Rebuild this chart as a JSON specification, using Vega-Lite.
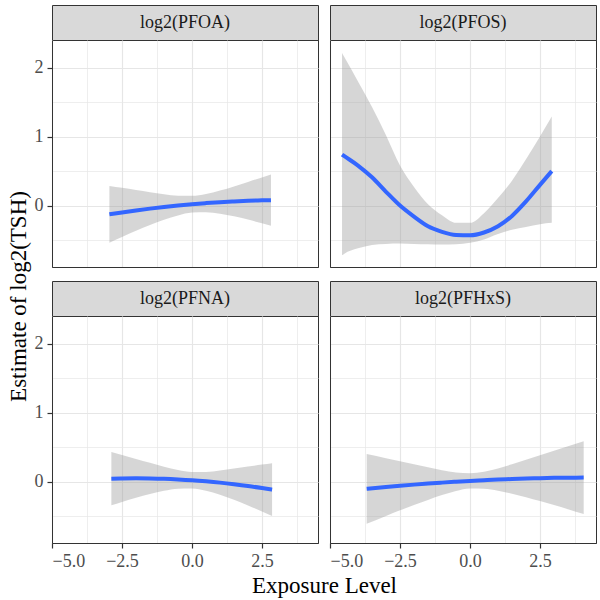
{
  "$schema": "https://vega.github.io/schema/vega-lite/v6.json",
  "padding": {"left": 6, "top": 4, "right": 0, "bottom": 0},
  "background": "white",
  "config": {
    "font": "Liberation Serif",
    "view": {"stroke": "#333333", "strokeWidth": 1},
    "axis": {
      "domain": true,
      "domainColor": "#333333",
      "domainWidth": 1,
      "labelFont": "Liberation Serif",
      "labelFontSize": 18,
      "labelColor": "#4d4d4d",
      "labelPadding": 4,
      "tickColor": "#333333",
      "tickSize": 5,
      "tickWidth": 1.2,
      "gridColor": "#e6e6e6",
      "titleFont": "Liberation Serif",
      "titleFontSize": 23,
      "titleFontWeight": "normal",
      "titleColor": "#000000",
      "titlePadding": 4
    }
  },
  "datasets": {
    "smooth": [
      {"panel": "log2(PFOA)", "x": -2.95, "fit": -0.127, "lower": -0.538, "upper": 0.284},
      {"panel": "log2(PFOA)", "x": -2.5, "fit": -0.099, "lower": -0.455, "upper": 0.257},
      {"panel": "log2(PFOA)", "x": -2.0, "fit": -0.07, "lower": -0.366, "upper": 0.226},
      {"panel": "log2(PFOA)", "x": -1.5, "fit": -0.044, "lower": -0.283, "upper": 0.195},
      {"panel": "log2(PFOA)", "x": -1.0, "fit": -0.02, "lower": -0.206, "upper": 0.166},
      {"panel": "log2(PFOA)", "x": -0.5, "fit": 0.001, "lower": -0.142, "upper": 0.144},
      {"panel": "log2(PFOA)", "x": 0.0, "fit": 0.02, "lower": -0.101, "upper": 0.141},
      {"panel": "log2(PFOA)", "x": 0.5, "fit": 0.036, "lower": -0.095, "upper": 0.167},
      {"panel": "log2(PFOA)", "x": 1.0, "fit": 0.05, "lower": -0.117, "upper": 0.217},
      {"panel": "log2(PFOA)", "x": 1.5, "fit": 0.061, "lower": -0.156, "upper": 0.278},
      {"panel": "log2(PFOA)", "x": 2.0, "fit": 0.07, "lower": -0.203, "upper": 0.343},
      {"panel": "log2(PFOA)", "x": 2.5, "fit": 0.076, "lower": -0.256, "upper": 0.408},
      {"panel": "log2(PFOA)", "x": 2.82, "fit": 0.079, "lower": -0.291, "upper": 0.449},

      {"panel": "log2(PFOS)", "x": -4.57, "fit": 0.74, "lower": -0.72, "upper": 2.21},
      {"panel": "log2(PFOS)", "x": -4.5, "fit": 0.72, "lower": -0.70, "upper": 2.16},
      {"panel": "log2(PFOS)", "x": -4.0, "fit": 0.58, "lower": -0.62, "upper": 1.80},
      {"panel": "log2(PFOS)", "x": -3.5, "fit": 0.41, "lower": -0.57, "upper": 1.43},
      {"panel": "log2(PFOS)", "x": -3.0, "fit": 0.20, "lower": -0.555, "upper": 1.02},
      {"panel": "log2(PFOS)", "x": -2.5, "fit": 0.00, "lower": -0.55, "upper": 0.58},
      {"panel": "log2(PFOS)", "x": -2.0, "fit": -0.16, "lower": -0.555, "upper": 0.27},
      {"panel": "log2(PFOS)", "x": -1.5, "fit": -0.30, "lower": -0.56, "upper": 0.02},
      {"panel": "log2(PFOS)", "x": -1.0, "fit": -0.38, "lower": -0.565, "upper": -0.14},
      {"panel": "log2(PFOS)", "x": -0.5, "fit": -0.425, "lower": -0.56, "upper": -0.25},
      {"panel": "log2(PFOS)", "x": 0.0, "fit": -0.43, "lower": -0.54, "upper": -0.25},
      {"panel": "log2(PFOS)", "x": 0.5, "fit": -0.39, "lower": -0.49, "upper": -0.11},
      {"panel": "log2(PFOS)", "x": 1.0, "fit": -0.30, "lower": -0.41, "upper": 0.11},
      {"panel": "log2(PFOS)", "x": 1.5, "fit": -0.15, "lower": -0.35, "upper": 0.36},
      {"panel": "log2(PFOS)", "x": 2.0, "fit": 0.06, "lower": -0.31, "upper": 0.67},
      {"panel": "log2(PFOS)", "x": 2.5, "fit": 0.30, "lower": -0.27, "upper": 1.00},
      {"panel": "log2(PFOS)", "x": 2.92, "fit": 0.50, "lower": -0.25, "upper": 1.29},

      {"panel": "log2(PFNA)", "x": -2.88, "fit": 0.042, "lower": -0.344, "upper": 0.428},
      {"panel": "log2(PFNA)", "x": -2.5, "fit": 0.046, "lower": -0.294, "upper": 0.386},
      {"panel": "log2(PFNA)", "x": -2.0, "fit": 0.048, "lower": -0.233, "upper": 0.329},
      {"panel": "log2(PFNA)", "x": -1.5, "fit": 0.046, "lower": -0.18, "upper": 0.272},
      {"panel": "log2(PFNA)", "x": -1.0, "fit": 0.041, "lower": -0.134, "upper": 0.216},
      {"panel": "log2(PFNA)", "x": -0.5, "fit": 0.032, "lower": -0.104, "upper": 0.168},
      {"panel": "log2(PFNA)", "x": 0.0, "fit": 0.02, "lower": -0.1, "upper": 0.14},
      {"panel": "log2(PFNA)", "x": 0.5, "fit": 0.004, "lower": -0.132, "upper": 0.14},
      {"panel": "log2(PFNA)", "x": 1.0, "fit": -0.015, "lower": -0.19, "upper": 0.16},
      {"panel": "log2(PFNA)", "x": 1.5, "fit": -0.038, "lower": -0.264, "upper": 0.188},
      {"panel": "log2(PFNA)", "x": 2.0, "fit": -0.064, "lower": -0.345, "upper": 0.217},
      {"panel": "log2(PFNA)", "x": 2.5, "fit": -0.094, "lower": -0.434, "upper": 0.246},
      {"panel": "log2(PFNA)", "x": 2.86, "fit": -0.117, "lower": -0.5, "upper": 0.266},

      {"panel": "log2(PFHxS)", "x": -3.69, "fit": -0.105, "lower": -0.611, "upper": 0.401},
      {"panel": "log2(PFHxS)", "x": -3.0, "fit": -0.079, "lower": -0.498, "upper": 0.34},
      {"panel": "log2(PFHxS)", "x": -2.5, "fit": -0.061, "lower": -0.417, "upper": 0.295},
      {"panel": "log2(PFHxS)", "x": -2.0, "fit": -0.044, "lower": -0.339, "upper": 0.251},
      {"panel": "log2(PFHxS)", "x": -1.5, "fit": -0.029, "lower": -0.265, "upper": 0.207},
      {"panel": "log2(PFHxS)", "x": -1.0, "fit": -0.015, "lower": -0.196, "upper": 0.166},
      {"panel": "log2(PFHxS)", "x": -0.5, "fit": -0.002, "lower": -0.137, "upper": 0.133},
      {"panel": "log2(PFHxS)", "x": 0.0, "fit": 0.01, "lower": -0.101, "upper": 0.121},
      {"panel": "log2(PFHxS)", "x": 0.5, "fit": 0.02, "lower": -0.102, "upper": 0.142},
      {"panel": "log2(PFHxS)", "x": 1.0, "fit": 0.03, "lower": -0.131, "upper": 0.191},
      {"panel": "log2(PFHxS)", "x": 1.5, "fit": 0.037, "lower": -0.176, "upper": 0.25},
      {"panel": "log2(PFHxS)", "x": 2.0, "fit": 0.044, "lower": -0.227, "upper": 0.315},
      {"panel": "log2(PFHxS)", "x": 2.5, "fit": 0.049, "lower": -0.283, "upper": 0.381},
      {"panel": "log2(PFHxS)", "x": 3.0, "fit": 0.054, "lower": -0.34, "upper": 0.448},
      {"panel": "log2(PFHxS)", "x": 3.5, "fit": 0.056, "lower": -0.401, "upper": 0.513},
      {"panel": "log2(PFHxS)", "x": 4.06, "fit": 0.058, "lower": -0.47, "upper": 0.586}
    ],
    "strips": [
      {"label": "log2(PFOA)"},
      {"label": "log2(PFOS)"},
      {"label": "log2(PFNA)"},
      {"label": "log2(PFHxS)"}
    ]
  },
  "columns": 2,
  "bounds": "flush",
  "spacing": {"row": 0, "column": 12},
  "concat": [
    {
      "width": 266, "height": 35,
      "view": {"fill": "#d9d9d9", "stroke": "#333333"},
      "data": {"name": "strips"},
      "transform": [{"filter": "datum.label === 'log2(PFOA)'"}],
      "mark": {"type": "text", "font": "Liberation Serif", "fontSize": 18, "color": "#1a1a1a"},
      "encoding": {"text": {"field": "label"}}
    },
    {
      "width": 266, "height": 35,
      "view": {"fill": "#d9d9d9", "stroke": "#333333"},
      "data": {"name": "strips"},
      "transform": [{"filter": "datum.label === 'log2(PFOS)'"}],
      "mark": {"type": "text", "font": "Liberation Serif", "fontSize": 18, "color": "#1a1a1a"},
      "encoding": {"text": {"field": "label"}}
    },
    {
      "width": 266, "height": 227,
      "data": {"name": "smooth"},
      "transform": [{"filter": "datum.panel === 'log2(PFOA)'"}],
      "encoding": {
        "x": {"field": "x", "type": "quantitative",
          "scale": {"domain": [-5, 4.5], "nice": false, "zero": false},
          "axis": {"title": null, "labels": false, "ticks": false,
            "values": [-5, -3.75, -2.5, -1.25, 0, 1.25, 2.5, 3.75],
            "gridWidth": {"condition": {"test": "datum.value % 2.5 != 0", "value": 0.7}, "value": 1.2}}}
      },
      "layer": [
        {
          "mark": {"type": "area", "fill": "#999999", "opacity": 0.4, "interpolate": "monotone"},
          "encoding": {
            "y": {"field": "lower", "type": "quantitative",
              "scale": {"domain": [-0.89, 2.4], "nice": false, "zero": false},
              "axis": {"title": "Estimate of log2(TSH)", "titleY": 256,
                "labelFont": "Liberation Serif", "titleFont": "Liberation Serif",
                "values": [-0.5, 0, 0.5, 1, 1.5, 2],
                "labelExpr": "datum.value % 1 == 0 ? format(datum.value, 'd') : ''",
                "tickOpacity": {"condition": {"test": "datum.value % 1 != 0", "value": 0}, "value": 1},
                "gridWidth": {"condition": {"test": "datum.value % 1 != 0", "value": 0.7}, "value": 1.2}}},
            "y2": {"field": "upper"}
          }
        },
        {
          "mark": {"type": "line", "color": "#3366FF", "strokeWidth": 4, "interpolate": "monotone"},
          "encoding": {"y": {"field": "fit", "type": "quantitative", "title": "Estimate of log2(TSH)"}}
        }
      ]
    },
    {
      "width": 266, "height": 227,
      "data": {"name": "smooth"},
      "transform": [{"filter": "datum.panel === 'log2(PFOS)'"}],
      "encoding": {
        "x": {"field": "x", "type": "quantitative",
          "scale": {"domain": [-5, 4.5], "nice": false, "zero": false},
          "axis": {"title": null, "labels": false, "ticks": false,
            "values": [-5, -3.75, -2.5, -1.25, 0, 1.25, 2.5, 3.75],
            "gridWidth": {"condition": {"test": "datum.value % 2.5 != 0", "value": 0.7}, "value": 1.2}}}
      },
      "layer": [
        {
          "mark": {"type": "area", "fill": "#999999", "opacity": 0.4, "interpolate": "monotone"},
          "encoding": {
            "y": {"field": "lower", "type": "quantitative",
              "scale": {"domain": [-0.89, 2.4], "nice": false, "zero": false},
              "axis": {"title": null, "labels": false, "ticks": false,
                "values": [-0.5, 0, 0.5, 1, 1.5, 2],
                "gridWidth": {"condition": {"test": "datum.value % 1 != 0", "value": 0.7}, "value": 1.2}}},
            "y2": {"field": "upper"}
          }
        },
        {
          "mark": {"type": "line", "color": "#3366FF", "strokeWidth": 4, "interpolate": "monotone"},
          "encoding": {"y": {"field": "fit", "type": "quantitative", "title": null}}
        }
      ]
    },
    {
      "width": 266, "height": 14,
      "view": {"stroke": null},
      "data": {"values": []},
      "mark": {"type": "text"},
      "encoding": {}
    },
    {
      "width": 266, "height": 14,
      "view": {"stroke": null},
      "data": {"values": []},
      "mark": {"type": "text"},
      "encoding": {}
    },
    {
      "width": 266, "height": 35,
      "view": {"fill": "#d9d9d9", "stroke": "#333333"},
      "data": {"name": "strips"},
      "transform": [{"filter": "datum.label === 'log2(PFNA)'"}],
      "mark": {"type": "text", "font": "Liberation Serif", "fontSize": 18, "color": "#1a1a1a"},
      "encoding": {"text": {"field": "label"}}
    },
    {
      "width": 266, "height": 35,
      "view": {"fill": "#d9d9d9", "stroke": "#333333"},
      "data": {"name": "strips"},
      "transform": [{"filter": "datum.label === 'log2(PFHxS)'"}],
      "mark": {"type": "text", "font": "Liberation Serif", "fontSize": 18, "color": "#1a1a1a"},
      "encoding": {"text": {"field": "label"}}
    },
    {
      "width": 266, "height": 227,
      "data": {"name": "smooth"},
      "transform": [{"filter": "datum.panel === 'log2(PFNA)'"}],
      "encoding": {
        "x": {"field": "x", "type": "quantitative",
          "scale": {"domain": [-5, 4.5], "nice": false, "zero": false},
          "axis": {"title": "Exposure Level", "titleX": 272,
            "labelFont": "Liberation Serif", "titleFont": "Liberation Serif",
            "values": [-5, -3.75, -2.5, -1.25, 0, 1.25, 2.5, 3.75],
            "labelExpr": "datum.value % 2.5 == 0 ? replace(format(datum.value, '.1f'), '-', '−') : ''",
            "tickOpacity": {"condition": {"test": "datum.value % 2.5 != 0", "value": 0}, "value": 1},
            "gridWidth": {"condition": {"test": "datum.value % 2.5 != 0", "value": 0.7}, "value": 1.2}}}
      },
      "layer": [
        {
          "mark": {"type": "area", "fill": "#999999", "opacity": 0.4, "interpolate": "monotone"},
          "encoding": {
            "y": {"field": "lower", "type": "quantitative",
              "scale": {"domain": [-0.89, 2.4], "nice": false, "zero": false},
              "axis": {"title": null, "labelFont": "Liberation Serif",
                "values": [-0.5, 0, 0.5, 1, 1.5, 2],
                "labelExpr": "datum.value % 1 == 0 ? format(datum.value, 'd') : ''",
                "tickOpacity": {"condition": {"test": "datum.value % 1 != 0", "value": 0}, "value": 1},
                "gridWidth": {"condition": {"test": "datum.value % 1 != 0", "value": 0.7}, "value": 1.2}}},
            "y2": {"field": "upper"}
          }
        },
        {
          "mark": {"type": "line", "color": "#3366FF", "strokeWidth": 4, "interpolate": "monotone"},
          "encoding": {"y": {"field": "fit", "type": "quantitative", "title": null}}
        }
      ]
    },
    {
      "width": 266, "height": 227,
      "data": {"name": "smooth"},
      "transform": [{"filter": "datum.panel === 'log2(PFHxS)'"}],
      "encoding": {
        "x": {"field": "x", "type": "quantitative",
          "scale": {"domain": [-5, 4.5], "nice": false, "zero": false},
          "axis": {"title": null, "labelFont": "Liberation Serif",
            "values": [-5, -3.75, -2.5, -1.25, 0, 1.25, 2.5, 3.75],
            "labelExpr": "datum.value % 2.5 == 0 ? replace(format(datum.value, '.1f'), '-', '−') : ''",
            "tickOpacity": {"condition": {"test": "datum.value % 2.5 != 0", "value": 0}, "value": 1},
            "gridWidth": {"condition": {"test": "datum.value % 2.5 != 0", "value": 0.7}, "value": 1.2}}}
      },
      "layer": [
        {
          "mark": {"type": "area", "fill": "#999999", "opacity": 0.4, "interpolate": "monotone"},
          "encoding": {
            "y": {"field": "lower", "type": "quantitative",
              "scale": {"domain": [-0.89, 2.4], "nice": false, "zero": false},
              "axis": {"title": null, "labels": false, "ticks": false,
                "values": [-0.5, 0, 0.5, 1, 1.5, 2],
                "gridWidth": {"condition": {"test": "datum.value % 1 != 0", "value": 0.7}, "value": 1.2}}},
            "y2": {"field": "upper"}
          }
        },
        {
          "mark": {"type": "line", "color": "#3366FF", "strokeWidth": 4, "interpolate": "monotone"},
          "encoding": {"y": {"field": "fit", "type": "quantitative", "title": null}}
        }
      ]
    }
  ]
}
